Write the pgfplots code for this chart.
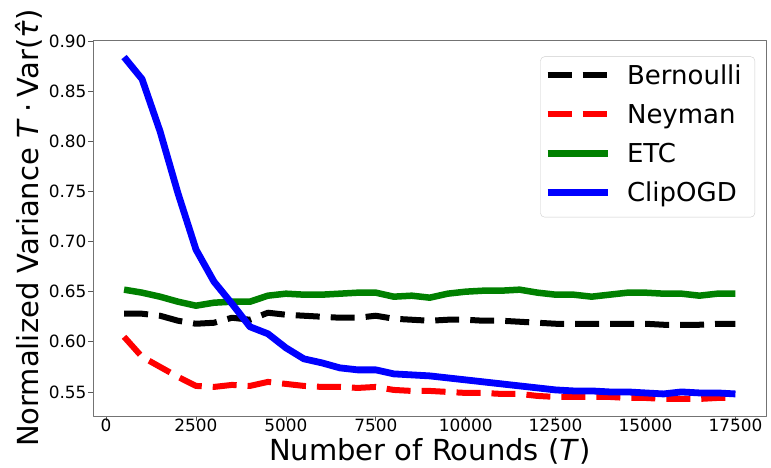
\documentclass[border=0pt]{standalone}
\usepackage{fontspec}
\setmainfont{DejaVu Sans}
\usepackage{pgfplots}
\pgfplotsset{compat=1.18}

\pgfplotstableread{
T     bern   ney    etc    clip
500   0.628  0.605  0.652  0.884
1000  0.628  0.585  0.649  0.862
1500  0.626  0.575  0.645  0.810
2000  0.621  0.565  0.640  0.748
2500  0.618  0.556  0.636  0.692
3000  0.619  0.555  0.639  0.660
3500  0.624  0.557  0.640  0.638
4000  0.622  0.556  0.640  0.615
4500  0.629  0.560  0.646  0.608
5000  0.627  0.558  0.648  0.594
5500  0.626  0.556  0.647  0.583
6000  0.625  0.555  0.647  0.579
6500  0.624  0.555  0.648  0.574
7000  0.624  0.554  0.649  0.572
7500  0.626  0.555  0.649  0.572
8000  0.623  0.552  0.645  0.568
8500  0.622  0.551  0.646  0.567
9000  0.621  0.551  0.644  0.566
9500  0.622  0.550  0.648  0.564
10000 0.622  0.549  0.650  0.562
10500 0.621  0.549  0.651  0.560
11000 0.621  0.548  0.651  0.558
11500 0.620  0.548  0.652  0.556
12000 0.619  0.546  0.649  0.554
12500 0.618  0.545  0.647  0.552
13000 0.618  0.545  0.647  0.551
13500 0.618  0.545  0.645  0.551
14000 0.618  0.545  0.647  0.550
14500 0.618  0.544  0.649  0.550
15000 0.618  0.544  0.649  0.549
15500 0.617  0.543  0.648  0.548
16000 0.617  0.543  0.648  0.550
16500 0.617  0.543  0.646  0.549
17000 0.618  0.544  0.648  0.549
17500 0.618  0.544  0.648  0.548
}\datatab

\begin{document}
\begin{tikzpicture}
\begin{axis}[name=ax, scale only axis, width=672.5pt, height=376pt,
  xmin=-350, xmax=18350, ymin=0.526, ymax=0.901,
  xtick={0,2500,5000,7500,10000,12500,15000,17500},
  ytick={0.55,0.60,0.65,0.70,0.75,0.80,0.85,0.90},
  scaled x ticks=false, scaled y ticks=false,
  xticklabel style={/pgf/number format/1000 sep={}, inner sep=0pt, yshift=2pt},
  yticklabel style={/pgf/number format/.cd, fixed, fixed zerofill, precision=2, /tikz/inner sep=0pt, /tikz/xshift=-1.8pt},
  /pgf/number format/assume math mode=true,
  tick label style={font=\fontsize{16.9}{20}\selectfont},
  tick align=outside, major tick length=5pt,
  xtick pos=bottom, ytick pos=left,
  tick style={black!65, line width=0.8pt},
  axis line style={black!55, line width=0.8pt},
  label style={font=\fontsize{29}{34}\selectfont},
  xlabel={Number of Rounds (\textit{T})},
  ylabel={Normalized Variance \textit{T}\hspace{0.22em}·\hspace{0.22em}Var(\textit{τ̂})},
  xlabel style={at={(axis description cs:0.5,0)}, anchor=base, yshift=-45pt},
  ylabel style={at={(axis description cs:-0.0825,0.5)}, anchor=base},
  legend cell align=left,
  legend style={at={(rel axis cs:1,1)}, anchor=north east, xshift=-11pt, yshift=-16.5pt,
    draw=black!20, rounded corners=4pt, fill=white,
    font=\fontsize{26}{31}\selectfont, inner xsep=3.75pt, inner ysep=9.2pt,
    row sep=14pt, column sep=16pt,
    cells={anchor=base west},
    nodes={inner sep=0pt, text height=19pt, text depth=6pt, text width=124pt}},
  legend image code/.code={\draw[#1] (0pt,9.5pt) -- (60pt,9.5pt);},
  line join=round]
  \addplot[black, line width=6pt, dash pattern=on 24pt off 11pt] table[x=T, y=bern] {\datatab};
  \addlegendentry{Bernoulli}
  \addplot[red, line width=6pt, dash pattern=on 24pt off 11pt] table[x=T, y=ney] {\datatab};
  \addlegendentry{Neyman}
  \addplot[green!50!black, line width=6.5pt] table[x=T, y=etc] {\datatab};
  \addlegendentry{ETC}
  \addplot[blue, line width=6.8pt] table[x=T, y=clip] {\datatab};
  \addlegendentry{ClipOGD}
\end{axis}
\pgfresetboundingbox
\path ([xshift=-93.5pt, yshift=-52pt]ax.south west) rectangle ([xshift=5pt, yshift=40pt]ax.north east);
\end{tikzpicture}
\end{document}
